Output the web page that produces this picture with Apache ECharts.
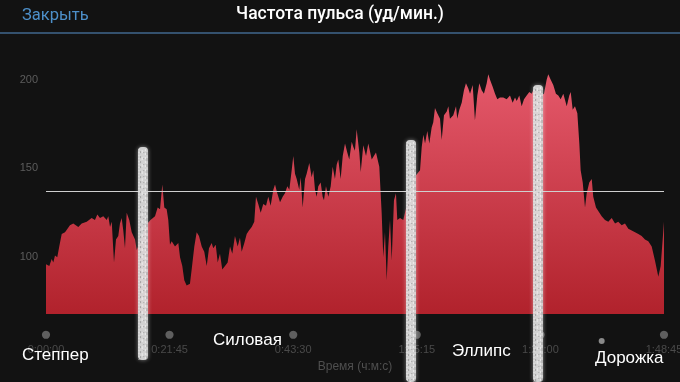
<!DOCTYPE html>
<html><head><meta charset="utf-8">
<script src="https://cdn.jsdelivr.net/npm/echarts@6/dist/echarts.min.js"></script>
<style>html,body{margin:0;padding:0;background:#121212}#c{width:680px;height:382px}</style>
</head><body><div id="c"></div>
<script>
// time in seconds since start
const times = [0,35,60,77,95,119,140,166,201,253,288,341,377,430,482,517,542,570,605,641,658,676,694,718,739,763,781,799,816,834,852,879,905,940,958,1003,1056,1103,1151,1179,1204,1228,1249,1274,1291,1309,1327,1362,1397,1415,1439,1460,1485,1520,1538,1566,1591,1615,1644,1671,1697,1721,1749,1766,1792,1813,1837,1861,1890,1918,1943,1967,1995,2024,2048,2066,2094,2119,2143,2172,2199,2217,2241,2267,2294,2323,2347,2372,2400,2418,2442,2471,2499,2523,2548,2569,2594,2611,2629,2647,2674,2689,2710,2735,2752,2780,2805,2822,2840,2858,2875,2900,2921,2935,2956,2981,3006,3027,3051,3069,3086,3111,3133,3157,3181,3202,3228,3245,3262,3280,3308,3323,3350,3379,3403,3439,3484,3519,3544,3561,3579,3597,3614,3632,3650,3674,3695,3709,3738,3772,3822,3875,3949,3967,3984,4002,4026,4047,4072,4089,4107,4131,4160,4178,4202,4231,4248,4265,4300,4329,4342,4364,4389,4413,4434,4459,4477,4505,4529,4554,4575,4600,4624,4653,4670,4688,4716,4741,4765,4793,4828,4864,4899,4927,4952,4970,4997,5022,5047,5075,5103,5128,5145,5184,5226,5258,5286,5303,5329,5356,5384,5409,5434,5462,5480,5498,5525,5540,5561,5585,5610,5631,5645,5667,5691,5709,5736,5762,5778,5807,5831,5867,5902,5937,5973,6008,6042,6078,6113,6148,6184,6219,6254,6289,6324,6359,6395,6430,6465,6490,6511,6525];
// heart rate, bpm
const bpm = [96,95,99,97,101,100,106,113,114,118,119,117,119,120,122,121,124,122,123,121,123,117,120,97,110,112,119,122,115,105,125,121,114,110,104,110,118,121,123,128,127,141,128,127,121,107,109,106,108,100,95,87,84,85,93,106,114,112,106,103,95,105,108,105,107,97,102,93,95,97,106,102,112,106,111,103,108,113,115,117,120,134,130,125,130,129,134,129,138,141,136,131,134,136,140,138,149,157,147,144,138,145,128,144,147,153,145,149,138,134,140,142,134,132,140,134,140,151,144,152,155,144,157,164,159,155,165,162,160,172,159,148,163,157,164,155,159,151,125,100,114,87,106,121,98,132,136,121,122,121,132,144,149,162,169,164,171,164,173,176,184,181,178,166,180,182,185,178,180,185,178,183,187,194,198,195,192,197,177,191,198,194,192,198,203,200,196,192,189,190,190,189,191,187,190,188,191,185,189,191,193,192,194,193,191,192,200,203,200,197,192,191,189,192,193,185,191,193,183,185,181,164,149,142,128,136,142,144,134,128,126,123,121,120,122,119,120,118,119,116,115,114,113,112,110,109,106,98,89,95,110,120];
const avgBpm = 137;
const yTickValues = [100,150,200];
const tickStep = 1305;           // 0:21:45
const totalTime = 6525;          // 1:48:45
const headerLeft = 'Закрыть';
const titleText = 'Частота пульса (уд/мин.)';
const axisNameText = 'Время (ч:м:с)';
const segmentNames = ['Степпер','Силовая','Эллипс','Дорожка'];
const dividerTimes = [1024, 3854, 5195];
const dividerTops = [162, 166, 197];

function fmt(s){
  const h = Math.floor(s/3600), m = Math.floor((s%3600)/60), ss = Math.round(s%60);
  return h + ':' + String(m).padStart(2,'0') + ':' + String(ss).padStart(2,'0');
}

const chart = echarts.init(document.getElementById('c'), null, {renderer:'canvas'});
const option = {
  backgroundColor: '#121212',
  animation: false,
  grid: {left: 46, right: 16, top: 53, bottom: 68, outerBoundsMode: 'none', containLabel: false},
  xAxis: {
    type: 'value', min: 0, max: totalTime, interval: tickStep,
    axisLine: {show: false}, axisTick: {show: false}, splitLine: {show: false},
    name: axisNameText, nameLocation: 'middle', nameGap: 46,
    nameTextStyle: {color: '#4f4f4f', fontSize: 12, fontFamily: 'Liberation Sans'},
    axisLabel: {
      showMinLabel: true, showMaxLabel: true, margin: 12, hideOverlap: false,
      formatter: v => '{d|●}\n{t|' + fmt(v) + '}',
      rich: {
        d: {color: '#5f5f5f', fontSize: 19, lineHeight: 17, align: 'center'},
        t: {color: '#4a4a4a', fontSize: 11, lineHeight: 14, fontFamily: 'Liberation Sans', align: 'center'}
      }
    }
  },
  yAxis: {
    type: 'value', min: 68, max: 215,
    axisLine: {show: false}, axisTick: {show: false}, splitLine: {show: false},
    axisLabel: {customValues: yTickValues, color: '#5c5c5c', fontSize: 11, margin: 8, fontFamily: 'Liberation Sans'}
  },
  series: [{
    type: 'line',
    data: times.map((t,i) => [t, bpm[i]]),
    showSymbol: false, smooth: false,
    lineStyle: {width: 0},
    areaStyle: {
      origin: 'start', opacity: 1,
      color: new echarts.graphic.LinearGradient(0,0,0,1,[
        {offset: 0, color: '#e5596b'},
        {offset: 1, color: '#b1222c'}
      ])
    },
    markLine: {
      silent: true, symbol: 'none', label: {show: false},
      lineStyle: {color: '#cfcfcf', width: 1, type: 'solid'},
      data: [{yAxis: avgBpm}]
    }
  }],
  graphic: [
    {type: 'line', shape: {x1: 0, y1: 33, x2: 680, y2: 33}, style: {stroke: '#34516e', lineWidth: 2}},
    {type: 'text', left: 22, top: 7, style: {text: headerLeft, fill: '#4d8fc9', fontSize: 16.5, fontFamily: 'Roboto'}},
    {type: 'text', left: 'center', top: 6, style: {text: titleText, fill: '#ffffff', fontSize: 17.5, fontWeight: 500, fontFamily: 'Roboto'}}
  ]
};
chart.setOption(option);

// hand-drawn style dividers and segment labels
const g = [];
const bottoms = [360, 382, 382];
dividerTimes.forEach((t, i) => {
  const p = chart.convertToPixel({gridIndex: 0}, [t, dividerTops[i]]);
  const x = p[0], y1 = p[1], y2 = bottoms[i];
  g.push({type: 'rect', shape: {x: x - 5, y: y1, width: 10, height: y2 - y1, r: 4},
    style: {fill: '#d9d9d9', opacity: 0.92, shadowBlur: 4, shadowColor: 'rgba(255,255,255,0.5)'}, z: 100});
  for (let k = 0; k < 6; k++) {
    g.push({type: 'line', shape: {x1: x - 4 + k*1.6, y1: y1 + 2, x2: x - 4 + k*1.6, y2: y2},
      style: {stroke: k % 2 ? '#8c8c8c' : '#f5f5f5', lineWidth: 1, lineDash: [1 + (k % 3), 2 + (k % 4)], lineDashOffset: k * 3, opacity: 0.7}, z: 101});
  }
});
const labelPos = [[22, 347], [213, 332], [452, 343], [595, 350]];
segmentNames.forEach((n, i) => {
  g.push({type: 'text', x: labelPos[i][0], y: labelPos[i][1],
    style: {text: n, fill: '#ffffff', fontSize: 17, fontFamily: 'Liberation Sans'}, z: 110});
});
const sp = chart.convertToPixel({gridIndex: 0}, [5867, 68]);
g.push({type: 'circle', shape: {cx: sp[0], cy: 341, r: 3}, style: {fill: '#8a8a8a'}, z: 100});
chart.setOption({graphic: option.graphic.concat(g)});
</script>
</body></html>
